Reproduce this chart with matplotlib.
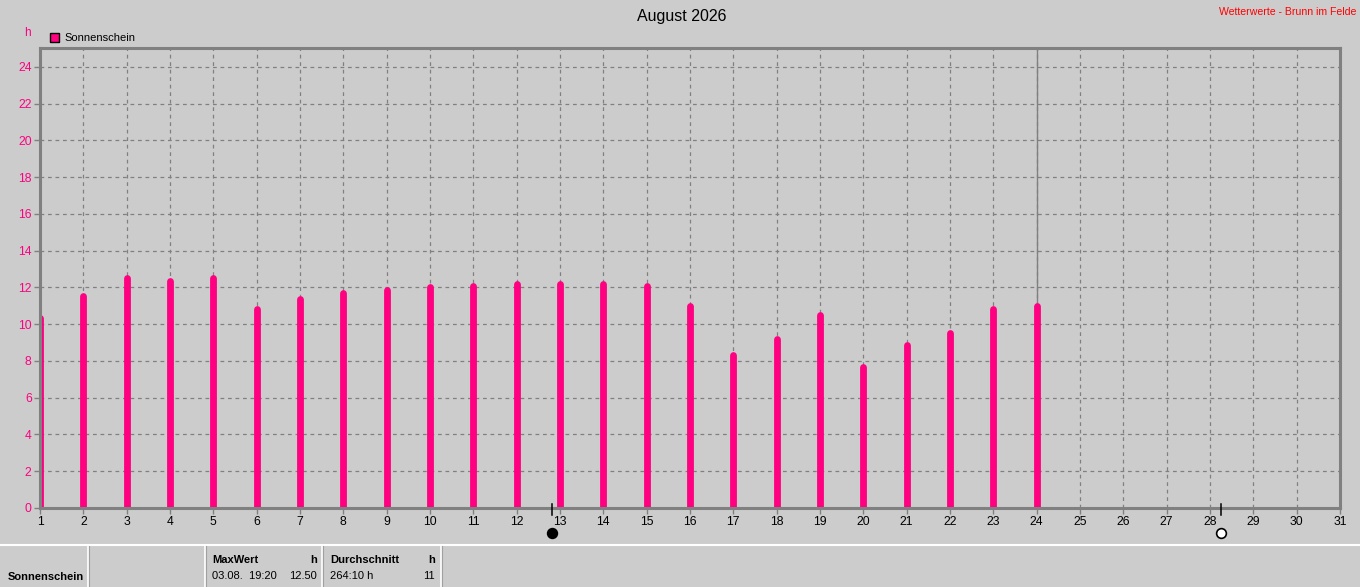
import matplotlib
matplotlib.use("Agg")
import matplotlib.pyplot as plt
from matplotlib.lines import Line2D
from matplotlib.patches import Rectangle
import matplotlib.transforms as mtransforms

plt.rcParams['font.family'] = ['Liberation Sans', 'DejaVu Sans']

# ---- data ----
days = list(range(1, 25))
sunshine = [10.34, 11.52, 12.50, 12.37, 12.50, 10.83, 11.39, 11.72, 11.86, 12.03,
            12.06, 12.19, 12.19, 12.19, 12.06, 10.99, 8.34, 9.20, 10.50, 7.67,
            8.87, 9.52, 10.83, 10.99]
x_ticks = list(range(1, 32))
y_ticks = list(range(0, 25, 2))
current_day = 24
new_moon_day = 12.82
full_moon_day = 28.26
title = "August 2026"
site = "Wetterwerte - Brunn im Felde"
series_name = "Sonnenschein"
unit = "h"
max_label = "MaxWert"
max_time = "03.08.  19:20"
max_value = "12.50"
avg_label = "Durchschnitt"
avg_total = "264:10 h"
avg_value = "11"

W, H = 1360, 587
BG = "#CCCCCC"
PINK = "#FF0080"
GRID = "#808080"

fig = plt.figure(figsize=(W / 100, H / 100), dpi=100, facecolor=BG)

def fx(px):
    return px / W

def fy(py):
    return 1 - py / H

ax_l, ax_r, ax_t, ax_b = 40, 1340, 48, 508
ax = fig.add_axes([fx(ax_l), fy(ax_b), fx(ax_r - ax_l), (ax_b - ax_t) / H])
ax.set_facecolor(BG)
ax.set_xlim(1, 31)
ax.set_ylim(0, 25.03)

# grid
for d in x_ticks[1:-1]:
    ax.axvline(d, color=GRID, lw=0.9, ls=(0, (3, 3)), zorder=1)
for v in y_ticks[1:]:
    ax.axhline(v, color=GRID, lw=0.9, ls=(0, (3, 3)), zorder=1)
ax.axvline(current_day, color=GRID, lw=1.0, zorder=1.5)

# bars
ax.vlines(days, 0, sunshine, colors=PINK, lw=4.9, capstyle="round", zorder=3)

for s in ax.spines.values():
    s.set_color(GRID)
    s.set_linewidth(2.2)
    s.set_zorder(4)

ax.set_xticks(x_ticks)
ax.set_xticklabels([str(d) for d in x_ticks], fontsize=8.7, color="black")
ax.set_yticks(y_ticks)
ax.set_yticklabels([str(v) for v in y_ticks], fontsize=8.7, color=PINK)
ax.tick_params(axis="both", length=4, width=1, color=GRID, pad=2)

# moon markers
trans = mtransforms.blended_transform_factory(ax.transData, ax.transAxes)
for d, fc in [(new_moon_day, "black"), (full_moon_day, "white")]:
    ax.add_line(Line2D([d, d], [4 / 460, -7 / 460], color="black", lw=1.1,
                       transform=trans, clip_on=False, zorder=5))
    ax.plot([d], [-25 / 460], marker="o", ms=7, mfc=fc, mec="black", mew=1.2,
            transform=trans, clip_on=False, zorder=5)

# titles
fig.text(fx(682), fy(16), title, ha="center", va="center", fontsize=11.5, color="black")
fig.text(fx(1356), fy(12), site, ha="right", va="center", fontsize=7.6, color="#FF0000")
fig.text(fx(27), fy(33), unit, ha="center", va="center", fontsize=8.5, color=PINK)

# legend
fig.patches.append(Rectangle((fx(50), fy(42)), fx(9), 9 / H, facecolor=PINK,
                             edgecolor="black", lw=1, transform=fig.transFigure))
fig.text(fx(64), fy(38), series_name, ha="left", va="center", fontsize=8, color="black")

# bottom table
fig.add_artist(Line2D([0, 1], [fy(545), fy(545)], color="white", lw=1.5,
                      transform=fig.transFigure))
for xp in [88, 205, 322, 441]:
    fig.add_artist(Line2D([fx(xp), fx(xp)], [fy(546), 0], color="white", lw=1.2,
                          transform=fig.transFigure))
    fig.add_artist(Line2D([fx(xp + 1.2), fx(xp + 1.2)], [fy(546), 0], color="#A0A0A0",
                          lw=0.8, transform=fig.transFigure))

fs = 8
fig.text(fx(8), fy(577), series_name, ha="left", va="center", fontsize=fs,
         fontweight="bold", color="black")
fig.text(fx(212), fy(560), max_label, ha="left", va="center", fontsize=fs,
         fontweight="bold", color="black")
fig.text(fx(317), fy(560), unit, ha="right", va="center", fontsize=fs,
         fontweight="bold", color="black")
fig.text(fx(212), fy(576), max_time, ha="left", va="center", fontsize=fs, color="black")
fig.text(fx(317), fy(576), max_value, ha="right", va="center", fontsize=fs, color="black")
fig.text(fx(330), fy(560), avg_label, ha="left", va="center", fontsize=fs,
         fontweight="bold", color="black")
fig.text(fx(435), fy(560), unit, ha="right", va="center", fontsize=fs,
         fontweight="bold", color="black")
fig.text(fx(330), fy(576), avg_total, ha="left", va="center", fontsize=fs, color="black")
fig.text(fx(435), fy(576), avg_value, ha="right", va="center", fontsize=fs, color="black")

fig.savefig("out.png", dpi=100, facecolor=BG)
